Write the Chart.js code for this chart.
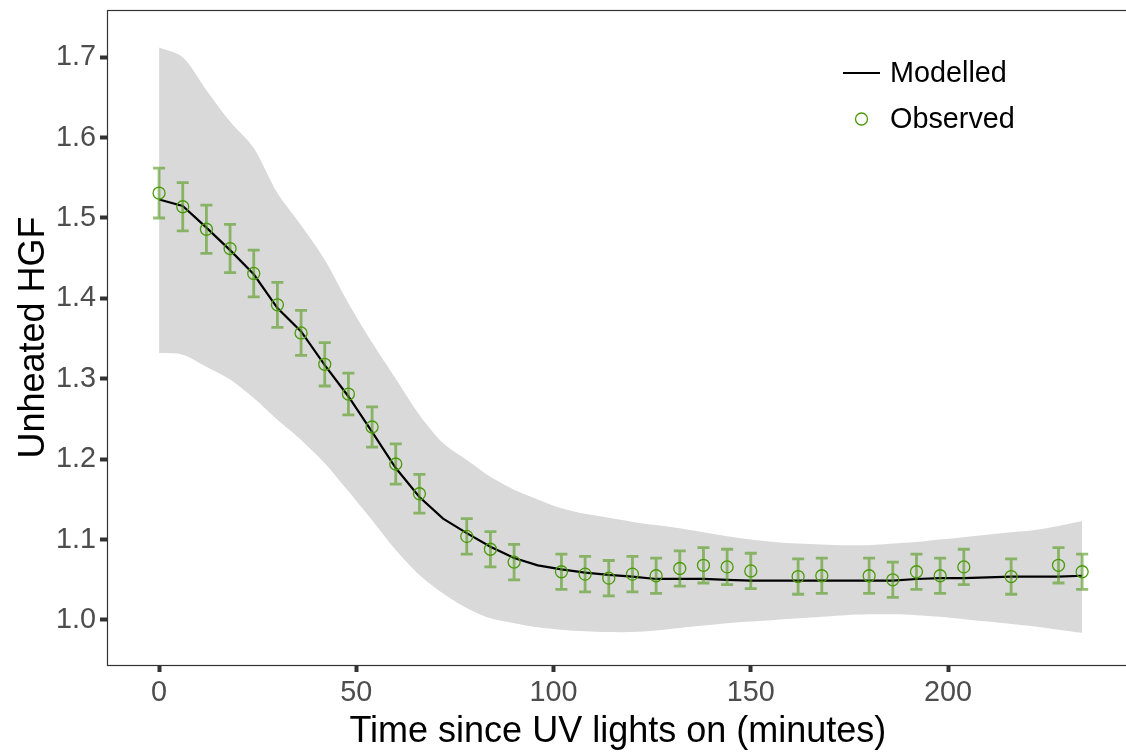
<!DOCTYPE html>
<html>
<head>
<meta charset="utf-8">
<script src="https://cdn.jsdelivr.net/npm/chart.js@4.4.1/dist/chart.umd.min.js"></script>
<style>
  html, body { margin: 0; padding: 0; background: #ffffff; overflow: hidden; }
  #wrap { width: 1136px; height: 755px; }
</style>
</head>
<body>
<div id="wrap"><canvas id="c" width="1136" height="755"></canvas></div>
<script>
// ---- data ----
const modelTime = [0,6,12,18,24,30,36,42,48,54,60,66,72,78,84,90,96,102,108,114,120,126,132,138,144,150,156,162,168,174,180,186,192,198,204,210,216,222,228,234];
const modelHGF  = [1.523,1.515,1.488,1.460,1.430,1.388,1.359,1.317,1.278,1.234,1.189,1.153,1.126,1.108,1.091,1.077,1.068,1.063,1.059,1.056,1.054,1.051,1.051,1.051,1.050,1.049,1.049,1.049,1.049,1.049,1.049,1.049,1.051,1.052,1.052,1.053,1.054,1.054,1.054,1.055];
const ribbonUpper = [1.712,1.700,1.659,1.620,1.587,1.531,1.491,1.448,1.394,1.345,1.300,1.255,1.220,1.199,1.178,1.162,1.150,1.139,1.132,1.127,1.122,1.118,1.114,1.109,1.104,1.100,1.097,1.095,1.094,1.093,1.093,1.095,1.097,1.100,1.103,1.106,1.109,1.112,1.117,1.123];
const ribbonLower = [1.332,1.330,1.315,1.299,1.276,1.249,1.224,1.195,1.160,1.124,1.087,1.056,1.033,1.015,1.002,0.996,0.991,0.988,0.986,0.985,0.985,0.987,0.990,0.993,0.996,0.998,1.000,1.002,1.004,1.006,1.007,1.007,1.006,1.004,1.001,0.998,0.995,0.992,0.988,0.984];

const obsTime = [0,6,12,18,24,30,36,42,48,54,60,66,78,84,90,102,108,114,120,126,132,138,144,150,162,168,180,186,192,198,204,216,228,234];
const obsHGF  = [1.531,1.514,1.486,1.462,1.431,1.392,1.357,1.318,1.281,1.240,1.194,1.157,1.104,1.088,1.072,1.060,1.057,1.052,1.057,1.055,1.064,1.068,1.066,1.061,1.054,1.055,1.055,1.050,1.060,1.055,1.066,1.054,1.068,1.060];
const obsErr  = [0.031,0.030,0.030,0.030,0.029,0.028,0.028,0.027,0.026,0.025,0.025,0.024,0.022,0.022,0.022,0.022,0.022,0.022,0.022,0.022,0.022,0.022,0.022,0.022,0.022,0.022,0.022,0.022,0.022,0.022,0.022,0.022,0.022,0.022];

const xTicks = [0, 50, 100, 150, 200];
const yTicks = [1.0, 1.1, 1.2, 1.3, 1.4, 1.5, 1.6, 1.7];
const seriesNames = ['Modelled', 'Observed'];

// ---- style ----
const FONT = '"Liberation Sans", Arial, "DejaVu Sans", sans-serif';
const GREEN = '#4c9a0c';
const BAR = 'rgba(86,155,30,0.62)';

const pts = (xs, ys) => xs.map((x, i) => ({ x: x, y: ys[i] }));

const errorBars = {
  id: 'errorBars',
  beforeDatasetDraw(chart, args) {
    if (args.index !== 3) return;
    const ctx = chart.ctx, xs = chart.scales.x, ys = chart.scales.y;
    ctx.save();
    ctx.strokeStyle = BAR;
    ctx.lineWidth = 2.8;
    ctx.lineCap = 'butt';
    obsTime.forEach((t, i) => {
      const px = xs.getPixelForValue(t);
      const top = ys.getPixelForValue(obsHGF[i] + obsErr[i]);
      const bot = ys.getPixelForValue(obsHGF[i] - obsErr[i]);
      ctx.beginPath();
      ctx.moveTo(px, top); ctx.lineTo(px, bot);
      ctx.moveTo(px - 6, top); ctx.lineTo(px + 6, top);
      ctx.moveTo(px - 6, bot); ctx.lineTo(px + 6, bot);
      ctx.stroke();
    });
    ctx.restore();
  }
};

const frameAndLegend = {
  id: 'frameAndLegend',
  afterDatasetsDraw(chart) {
    const ctx = chart.ctx, a = chart.chartArea;
    ctx.save();
    ctx.strokeStyle = '#333333';
    ctx.lineWidth = 1.2;
    ctx.strokeRect(a.left + 0.5, a.top + 0.5, a.right - a.left + 20, a.bottom - a.top);
    // legend
    ctx.strokeStyle = '#000000';
    ctx.lineWidth = 2.2;
    ctx.beginPath(); ctx.moveTo(843, 73); ctx.lineTo(880, 73); ctx.stroke();
    ctx.strokeStyle = GREEN;
    ctx.lineWidth = 1.3;
    ctx.beginPath(); ctx.arc(861.5, 119, 6, 0, Math.PI * 2); ctx.stroke();
    ctx.fillStyle = '#000000';
    ctx.font = '28.8px ' + FONT;
    ctx.textBaseline = 'middle';
    ctx.textAlign = 'left';
    ctx.fillText(seriesNames[0], 890, 74);
    ctx.fillText(seriesNames[1], 890, 120);
    ctx.restore();
  }
};

new Chart(document.getElementById('c'), {
  type: 'line',
  data: {
    datasets: [
      { label: 'upper', data: pts(modelTime, ribbonUpper), borderWidth: 0, pointRadius: 0,
        backgroundColor: '#d9d9d9', fill: '+1', order: 5, tension: 0.3 },
      { label: 'lower', data: pts(modelTime, ribbonLower), borderWidth: 0, pointRadius: 0,
        fill: false, order: 4, tension: 0.3 },
      { label: seriesNames[0], data: pts(modelTime, modelHGF), borderColor: '#000000', borderWidth: 2.2,
        pointRadius: 0, fill: false, order: 3, tension: 0 },
      { label: seriesNames[1], data: pts(obsTime, obsHGF), showLine: false, pointRadius: 6,
        pointBorderWidth: 1.3, pointBorderColor: GREEN, pointBackgroundColor: 'rgba(0,0,0,0)',
        pointStyle: 'circle', order: 1 }
    ]
  },
  options: {
    responsive: false,
    animation: false,
    events: [],
    layout: { padding: { top: 10, left: 0, right: 0, bottom: 0 } },
    plugins: { legend: { display: false }, tooltip: { enabled: false } },
    scales: {
      x: {
        type: 'linear', min: -13.2, max: 245.8,
        afterBuildTicks(s) { s.ticks = xTicks.map(v => ({ value: v })); },
        afterFit(s) { s.height = 90; s.paddingLeft = 0; s.paddingRight = 0; },
        grid: { display: true, drawOnChartArea: false, drawTicks: true, tickLength: 7, tickWidth: 4, tickColor: '#333333' },
        border: { display: false },
        ticks: { color: '#4d4d4d', font: { family: FONT, size: 28.8 }, padding: 4, maxRotation: 0,
                 callback: v => String(v) },
        title: { display: true, text: 'Time since UV lights on (minutes)', color: '#000000',
                 font: { family: FONT, size: 36 }, padding: { top: 0, bottom: 1 } }
      },
      y: {
        type: 'linear', min: 0.944, max: 1.7587,
        afterBuildTicks(s) { s.ticks = yTicks.map(v => ({ value: v })); },
        afterFit(s) { s.width = 107; s.paddingTop = 0; s.paddingBottom = 0; },
        grid: { display: true, drawOnChartArea: false, drawTicks: true, tickLength: 7, tickWidth: 4, tickColor: '#333333' },
        border: { display: false },
        ticks: { color: '#4d4d4d', font: { family: FONT, size: 28.8 }, padding: 4,
                 callback: v => Number(v).toFixed(1) },
        title: { display: true, text: 'Unheated HGF', color: '#000000',
                 font: { family: FONT, size: 36 }, padding: { top: 12, bottom: 0 } }
      }
    }
  },
  plugins: [errorBars, frameAndLegend]
});
</script>
</body>
</html>
